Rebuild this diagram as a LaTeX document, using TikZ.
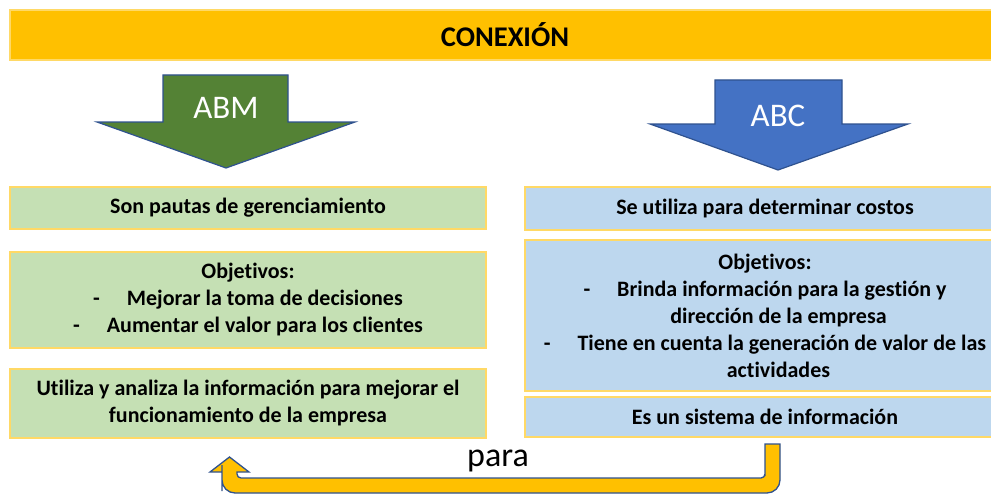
\documentclass[tikz,border=0pt]{standalone}
\usepackage{fontspec}
\setmainfont[Ligatures={NoCommon}]{Carlito}
\definecolor{gold}{HTML}{FFC000}
\definecolor{lightgold}{HTML}{FFD966}
\definecolor{armgreen}{HTML}{548235}
\definecolor{armblue}{HTML}{4472C4}
\definecolor{edgeblue}{HTML}{2F528F}
\definecolor{boxgreen}{HTML}{C5E0B4}
\definecolor{boxblue}{HTML}{BDD7EE}
\tikzset{
  infobox/.style={draw=lightgold, line width=2pt, inner sep=0pt, align=center,
    font=\fontsize{22}{27}\selectfont\bfseries},
  greenbox/.style={infobox, fill=boxgreen, minimum width=476pt},
  bluebox/.style={infobox, fill=boxblue, minimum width=480pt},
  bigarrow/.style={draw=edgeblue, line width=1.2pt, line join=miter},
  armlabel/.style={text=white, font=\fontsize{33}{36}\selectfont},
  uarrow/.style={draw=edgeblue, line width=1.3pt, fill=gold}
}
\begin{document}
\begin{tikzpicture}[x=1pt,y=-1pt]
\useasboundingbox (0,0) rectangle (991,495);
% title bar
\node[draw=lightgold, line width=1.5pt, fill=gold, minimum width=990pt, minimum height=50pt,
      inner sep=0pt, font=\fontsize{28.5}{30}\selectfont\bfseries] (title) at (505,35) {CONEXIÓN};
% ABM arrow
\draw[bigarrow, fill=armgreen] (163,75) -- (288,75) -- (288,122) -- (355,122) -- (226,168)
   -- (97,122) -- (163,122) -- cycle;
\node[armlabel] (abm) at (226,108) {ABM};
% ABC arrow
\draw[bigarrow, fill=armblue] (715,80) -- (842,80) -- (842,124) -- (908,124) -- (778,170)
   -- (650,124) -- (715,124) -- cycle;
\node[armlabel] (abc) at (778,116) {ABC};
% left boxes
\node[greenbox, minimum height=42pt] (l1) at (248,208) {Son pautas de gerenciamiento};
\node[greenbox, minimum height=96pt] (l2) at (248,300)
  {Objetivos:\\-\quad\ Mejorar la toma de decisiones\\-\quad\ Aumentar el valor para los clientes};
\node[greenbox, minimum height=69pt] (l3) at (248,403.5)
  {Utiliza y analiza la información para mejorar el\\funcionamiento de la empresa};
% right boxes
\node[bluebox, minimum height=43pt] (r1) at (765,208.5) {Se utiliza para determinar costos};
\node[bluebox, minimum height=151pt] (r2) at (765,315.5)
  {Objetivos:\\-\quad\ Brinda información para la gestión y\\\quad\ dirección de la empresa\\
   -\quad\ Tiene en cuenta la generación de valor de las\\\quad\ actividades};
\node[bluebox, minimum height=40pt] (r3) at (765,417) {Es un sistema de información};
% U-turn arrow
\coordinate (ustart) at (772.5,444);
\coordinate (uend) at (229.5,457);
\draw[uarrow] (765,444) -- (780,444) -- (780,460) [rounded corners=13pt] -- (780,493)
  -- (222,493) -- (222,478) [sharp corners] -- (222,472) -- (210,472) -- (uend)
  -- (249,472) -- (237,472) -- (237,474) [rounded corners=4pt] -- (237,478) -- (765,478)
  -- (765,472) [sharp corners] -- (765,444) -- cycle;
\node[font=\fontsize{34}{36}\selectfont] (para) at (498,461) {para};
\end{tikzpicture}
\end{document}
